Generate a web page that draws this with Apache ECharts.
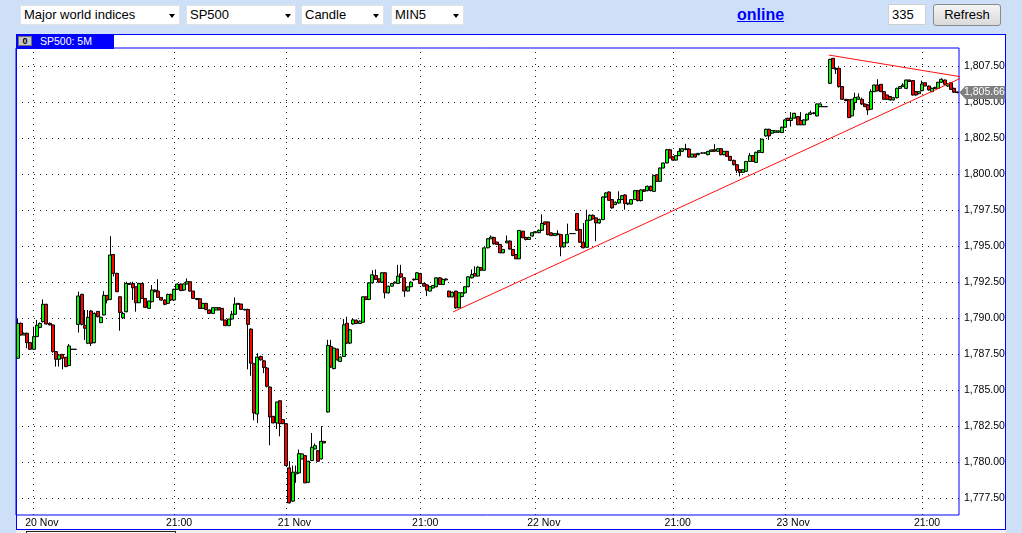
<!DOCTYPE html>
<html><head><meta charset="utf-8">
<script src="https://cdn.jsdelivr.net/npm/echarts@6/dist/echarts.min.js"></script>
<style>
html,body{margin:0;padding:0;width:1022px;height:533px;overflow:hidden;background:#cde0f7;font-family:"Liberation Sans",Arial,sans-serif;}
.sel{position:absolute;top:5px;height:20px;background:#fff;border:1px solid #e2e2e2;box-sizing:border-box;font-size:13px;line-height:18px;padding-left:3px;color:#000;white-space:nowrap;}
.sel:after{content:"";position:absolute;right:4px;top:8px;border-left:3.5px solid transparent;border-right:3.5px solid transparent;border-top:4px solid #000;}
#panel{position:absolute;left:16px;top:34px;width:990px;height:496px;box-sizing:border-box;border:1px solid #0000ff;background:#fff;}
#scroll{position:absolute;left:16px;top:530px;width:990px;height:3px;background:#f0f0f0;}
#thumb{position:absolute;left:26px;top:531px;width:150px;height:4px;box-sizing:border-box;border:1px solid #222;background:#f8f8f8;}
#title{position:absolute;left:16px;top:34px;width:98px;height:15px;background:#0000ff;color:#fff;font-size:10.5px;line-height:15px;}
#title span{position:absolute;left:24px;top:0;}
#icon{position:absolute;left:2px;top:2px;width:14px;height:10px;box-sizing:border-box;background:#c8c8c8;border:1px solid #707070;font-size:9px;line-height:8px;font-weight:bold;color:#000;text-align:center;}
#online{position:absolute;left:737px;top:5px;font-size:16px;font-weight:bold;color:#0000ff;text-decoration:underline;line-height:20px;}
#num{position:absolute;left:888px;top:4px;width:38px;height:21px;box-sizing:border-box;border:1px solid #cfcfcf;background:#fff;font-size:13px;line-height:19px;padding-left:3px;}
#refresh{position:absolute;left:933px;top:4px;width:68px;height:22px;box-sizing:border-box;border:1px solid #8a8a8a;border-radius:3px;background:linear-gradient(#f4f4f4,#dadada);font-size:13px;line-height:20px;text-align:center;}
#chart{position:absolute;left:0;top:0;width:1022px;height:533px;}
</style></head>
<body>
<div class="sel" style="left:20px;width:160px;">Major world indices</div>
<div class="sel" style="left:186px;width:110px;">SP500</div>
<div class="sel" style="left:301px;width:83px;">Candle</div>
<div class="sel" style="left:391px;width:73px;">MIN5</div>
<div id="online">online</div>
<div id="num">335</div>
<div id="refresh">Refresh</div>
<div id="panel"></div>
<div id="scroll"></div>
<div id="thumb"></div>
<div id="chart"></div>
<div id="title"><div id="icon">0</div><span>SP500: 5M</span></div>
<script>
// ---- data (open, close, low, high) per 5-minute bar ----
const candles = [
[1787.22,1789.64,1787.22,1789.99],[1789.64,1788.83,1788.80,1789.70],[1788.83,1788.95,1788.83,1789.00],[1788.95,1788.30,1787.91,1789.00],
[1788.30,1787.84,1787.80,1788.35],[1787.84,1788.72,1787.80,1789.40],[1788.72,1789.50,1788.70,1789.87],[1789.36,1789.64,1789.30,1789.70],
[1789.76,1790.96,1789.70,1791.30],[1790.96,1789.60,1789.55,1791.00],[1789.64,1789.53,1789.50,1789.70],[1789.53,1787.68,1787.60,1789.55],
[1787.68,1787.15,1786.64,1787.70],[1787.15,1787.45,1786.64,1787.50],[1787.49,1787.22,1786.45,1787.50],[1787.29,1786.64,1786.60,1787.30],
[1786.71,1788.07,1786.70,1788.20],[1787.84,1787.84,1787.84,1787.84],[1787.84,1787.84,1787.84,1787.84],[1789.57,1791.54,1789.00,1791.84],
[1791.65,1789.57,1789.50,1791.70],[1789.50,1789.30,1788.49,1790.57],[1788.26,1790.06,1788.20,1790.57],[1790.50,1788.26,1788.07,1790.55],
[1788.30,1790.33,1788.25,1790.40],[1790.47,1790.10,1790.05,1790.50],[1789.69,1790.06,1789.65,1790.10],[1790.22,1791.58,1790.20,1791.88],
[1791.58,1791.26,1791.03,1791.60],[1791.30,1794.38,1791.25,1795.69],[1794.42,1793.11,1792.90,1794.45],[1793.11,1791.84,1791.80,1793.15],
[1791.49,1790.40,1789.13,1791.50],[1790.03,1790.33,1789.94,1790.45],[1790.45,1792.41,1790.40,1792.53],[1792.41,1792.34,1792.30,1792.45],
[1792.41,1792.11,1791.26,1792.53],[1792.18,1791.07,1790.45,1792.20],[1791.07,1792.41,1791.05,1792.45],[1792.41,1791.37,1791.35,1792.45],
[1791.37,1790.75,1790.70,1791.40],[1790.68,1791.19,1790.65,1791.20],[1791.14,1791.95,1791.10,1792.30],[1791.95,1791.84,1791.80,1792.00],
[1791.88,1791.44,1791.40,1792.70],[1791.44,1791.26,1791.20,1791.45],[1791.26,1790.96,1790.90,1791.30],[1791.03,1791.65,1791.00,1791.70],
[1791.65,1791.26,1791.20,1791.70],[1791.26,1792.00,1791.20,1792.05],[1792.00,1792.37,1791.95,1792.40],[1792.37,1791.91,1791.90,1792.40],
[1791.95,1792.37,1791.90,1792.40],[1792.37,1792.53,1792.35,1792.76],[1792.53,1791.88,1791.85,1792.55],[1791.88,1791.37,1791.35,1791.90],
[1791.37,1791.30,1791.25,1791.40],[1791.35,1790.68,1790.65,1791.40],[1790.68,1791.03,1790.65,1791.05],[1791.03,1790.61,1790.55,1791.05],
[1790.57,1790.33,1790.30,1790.60],[1790.33,1790.73,1790.30,1790.75],[1790.57,1790.73,1790.55,1790.75],[1790.73,1790.57,1790.55,1790.75],
[1790.68,1789.87,1789.85,1790.70],[1789.87,1789.48,1789.45,1789.90],[1789.48,1789.94,1789.45,1789.95],[1789.94,1790.27,1789.90,1790.50],
[1790.27,1790.98,1790.25,1791.44],[1791.03,1790.96,1790.95,1791.05],[1790.98,1790.61,1790.60,1791.00],[1790.61,1790.57,1790.55,1790.65],
[1790.61,1789.57,1786.45,1790.65],[1789.24,1786.88,1786.00,1789.30],[1786.84,1783.42,1782.91,1786.90],[1783.35,1787.30,1782.72,1787.57],
[1787.34,1787.11,1787.05,1787.40],[1787.04,1786.58,1786.19,1787.10],[1786.54,1785.27,1785.20,1786.60],[1785.22,1783.14,1781.18,1785.25],
[1783.19,1782.73,1782.70,1783.20],[1782.73,1784.18,1782.31,1784.20],[1784.27,1782.68,1781.80,1784.30],[1782.96,1782.68,1782.65,1783.00],
[1782.68,1779.77,1779.75,1782.70],[1779.61,1777.18,1777.15,1780.07],[1777.30,1779.31,1777.25,1779.77],[1779.19,1779.31,1778.57,1779.77],
[1779.26,1780.60,1779.20,1780.88],[1780.23,1780.58,1780.20,1780.60],[1780.46,1778.57,1778.55,1780.50],[1778.61,1780.07,1778.55,1780.10],
[1780.12,1781.04,1780.10,1782.03],[1780.92,1781.15,1780.90,1781.30],[1780.80,1780.07,1780.05,1780.85],[1780.23,1781.45,1780.20,1782.50],
[1781.45,1781.34,1781.34,1781.45],[1783.49,1788.11,1783.45,1788.50],[1788.04,1786.61,1786.55,1788.50],[1786.50,1787.92,1786.45,1787.95],
[1787.85,1787.11,1787.05,1787.90],[1787.00,1787.30,1786.95,1787.35],[1787.34,1789.54,1787.30,1789.95],[1789.65,1788.27,1788.20,1790.10],
[1788.27,1789.19,1788.20,1789.25],[1789.60,1789.88,1789.55,1789.95],[1789.86,1789.63,1789.60,1789.90],[1789.63,1789.79,1789.60,1789.85],
[1789.72,1791.48,1789.70,1791.50],[1791.48,1791.30,1791.25,1791.50],[1791.30,1792.45,1791.25,1792.50],[1792.45,1793.01,1792.40,1793.33],
[1792.96,1792.69,1792.65,1793.38],[1792.73,1792.50,1792.45,1792.75],[1792.50,1793.15,1792.45,1793.20],[1793.15,1791.76,1791.37,1793.20],
[1791.76,1792.22,1791.70,1792.25],[1792.22,1792.41,1792.20,1792.45],[1792.45,1792.50,1792.40,1792.55],[1792.41,1792.92,1792.40,1793.70],
[1793.08,1792.85,1792.80,1793.70],[1792.80,1791.88,1791.48,1792.85],[1791.88,1792.18,1791.85,1792.20],[1792.18,1792.50,1792.15,1792.55],
[1792.70,1792.66,1792.60,1792.75],[1792.69,1793.15,1792.65,1793.20],[1793.10,1792.41,1792.40,1793.15],[1792.41,1792.22,1792.20,1792.45],
[1792.31,1791.94,1791.53,1792.35],[1791.88,1792.18,1791.85,1792.20],[1792.10,1792.27,1792.05,1792.30],[1792.18,1792.80,1792.15,1792.85],
[1792.80,1792.34,1792.30,1792.85],[1792.34,1792.69,1792.30,1792.75],[1792.72,1792.66,1792.60,1792.75],[1791.88,1791.48,1791.45,1791.90],
[1791.48,1791.80,1791.45,1791.85],[1791.88,1790.72,1790.65,1791.90],[1790.72,1791.76,1790.70,1791.80],[1791.50,1791.76,1791.45,1791.80],
[1791.76,1792.18,1791.70,1792.20],[1792.18,1792.87,1792.15,1792.90],[1792.80,1793.03,1792.75,1793.38],[1793.10,1792.92,1792.90,1793.60],
[1792.92,1793.54,1792.90,1793.60],[1793.50,1793.33,1793.30,1793.55],[1793.33,1794.88,1793.30,1794.90],[1794.88,1795.51,1794.85,1795.55],
[1795.51,1795.63,1795.50,1795.74],[1795.60,1795.16,1795.10,1795.65],[1795.28,1795.12,1795.10,1795.30],[1795.12,1794.54,1794.50,1795.15],
[1794.54,1794.77,1794.50,1794.80],[1795.23,1795.35,1795.20,1795.74],[1795.35,1794.80,1794.75,1795.40],[1794.77,1794.35,1794.30,1794.80],
[1794.42,1794.12,1794.10,1794.45],[1794.12,1796.09,1794.10,1796.10],[1796.04,1795.58,1795.55,1796.05],[1795.60,1795.46,1795.40,1795.65],
[1795.46,1795.60,1795.45,1795.65],[1795.70,1795.93,1795.65,1795.95],[1795.93,1796.00,1795.90,1796.05],[1795.93,1796.10,1795.90,1796.15],
[1796.10,1796.57,1796.05,1797.20],[1796.68,1796.52,1796.45,1796.70],[1796.68,1795.80,1795.75,1796.70],[1795.92,1795.73,1795.70,1795.95],
[1795.73,1795.87,1795.70,1795.90],[1795.85,1795.80,1795.75,1796.10],[1795.80,1794.95,1794.30,1795.85],[1794.95,1795.23,1794.90,1795.25],
[1795.23,1795.80,1795.20,1796.56],[1795.87,1795.87,1795.87,1795.87],[1795.87,1795.87,1795.87,1795.87],[1797.26,1796.10,1796.05,1797.30],
[1796.15,1795.27,1795.25,1796.20],[1795.27,1794.88,1794.85,1796.60],[1794.92,1796.80,1794.90,1797.53],[1796.80,1797.14,1796.75,1797.20],
[1797.14,1796.89,1796.85,1797.20],[1796.96,1796.61,1795.34,1797.00],[1796.61,1796.84,1796.55,1796.90],[1796.84,1798.41,1796.80,1798.45],
[1798.41,1798.69,1798.35,1798.75],[1798.76,1798.18,1798.15,1798.80],[1798.23,1797.65,1797.60,1798.25],[1797.88,1798.04,1797.85,1798.10],
[1797.99,1798.23,1797.95,1798.80],[1798.23,1798.50,1798.20,1798.55],[1798.55,1797.95,1797.53,1798.60],[1797.98,1797.92,1797.85,1798.00],
[1797.92,1798.23,1797.90,1798.25],[1798.23,1798.85,1798.20,1798.90],[1798.85,1798.16,1798.10,1798.90],[1798.16,1798.90,1798.10,1798.95],
[1798.90,1798.80,1798.75,1798.95],[1798.85,1799.15,1798.80,1799.20],[1799.15,1798.85,1798.80,1799.20],[1798.80,1799.89,1798.75,1799.95],
[1799.96,1799.50,1799.45,1800.00],[1799.50,1800.42,1799.45,1800.45],[1800.42,1800.77,1800.40,1800.80],[1800.77,1801.69,1800.75,1801.75],
[1801.69,1801.12,1801.10,1801.75],[1801.20,1800.97,1800.95,1801.25],[1800.97,1801.28,1800.95,1801.30],[1801.28,1801.58,1801.25,1801.80],
[1801.58,1801.76,1801.55,1801.80],[1801.70,1801.76,1801.65,1802.10],[1801.74,1801.18,1801.15,1801.80],[1801.18,1801.39,1801.15,1801.40],
[1801.39,1801.18,1801.15,1801.40],[1801.35,1801.44,1801.30,1801.46],[1801.46,1801.46,1801.42,1801.50],[1801.46,1801.46,1801.42,1801.50],
[1801.35,1801.58,1801.30,1801.60],[1801.58,1801.67,1801.55,1801.70],[1801.69,1801.58,1801.55,1802.08],[1801.58,1801.76,1801.55,1801.80],
[1801.76,1801.35,1801.30,1801.80],[1801.35,1801.58,1801.30,1801.60],[1801.58,1801.23,1801.20,1801.60],[1801.23,1800.95,1800.90,1801.25],
[1800.95,1800.65,1800.60,1801.00],[1800.65,1800.26,1800.07,1800.70],[1800.30,1800.12,1799.84,1800.35],[1800.12,1800.30,1800.10,1800.35],
[1800.19,1800.88,1800.15,1800.90],[1800.88,1801.28,1800.85,1801.46],[1801.28,1800.88,1800.85,1801.30],[1800.81,1801.51,1800.80,1801.55],
[1801.51,1801.62,1801.45,1801.65],[1801.50,1802.42,1801.45,1802.45],[1802.65,1803.11,1802.60,1803.15],[1803.11,1802.65,1802.37,1803.15],
[1802.84,1803.02,1802.80,1803.05],[1802.90,1803.00,1802.85,1803.05],[1802.90,1803.00,1802.85,1803.05],[1802.88,1803.25,1802.85,1803.30],
[1803.25,1803.76,1803.20,1803.80],[1803.88,1803.72,1803.70,1803.90],[1803.72,1803.88,1803.30,1804.30],[1803.88,1804.22,1803.85,1804.25],
[1803.99,1803.42,1803.40,1804.00],[1803.72,1803.42,1803.40,1804.30],[1803.42,1803.76,1803.40,1803.80],[1803.76,1804.15,1803.70,1804.20],
[1804.15,1804.25,1804.10,1804.40],[1804.20,1804.25,1804.15,1804.30],[1804.04,1804.87,1804.00,1804.90],[1804.68,1804.87,1804.65,1804.90],
[1804.68,1804.68,1804.68,1804.68],[1804.68,1804.68,1804.68,1804.68],[1806.30,1807.96,1806.25,1808.00],[1808.03,1807.34,1807.30,1808.05],
[1807.34,1807.27,1806.95,1807.40],[1807.34,1806.07,1806.00,1807.40],[1806.07,1805.19,1805.15,1806.10],[1805.19,1805.10,1805.05,1805.20],
[1805.15,1803.92,1803.90,1805.20],[1804.04,1805.19,1804.00,1805.20],[1804.96,1805.31,1804.45,1805.65],[1805.19,1805.35,1805.15,1805.60],
[1805.19,1804.86,1804.80,1805.30],[1804.86,1804.68,1804.65,1804.90],[1804.80,1804.45,1804.10,1804.85],[1804.50,1805.72,1804.45,1805.88],
[1805.72,1806.18,1805.70,1806.20],[1806.18,1805.77,1805.75,1806.58],[1806.23,1805.72,1805.70,1806.25],[1805.72,1805.19,1805.15,1805.75],
[1805.49,1805.19,1805.15,1805.50],[1805.38,1805.15,1805.10,1805.40],[1805.15,1805.30,1805.10,1805.35],[1805.30,1805.95,1805.25,1806.00],
[1805.95,1806.07,1805.90,1806.10],[1806.07,1806.18,1806.05,1806.30],[1805.95,1806.53,1805.90,1806.55],[1806.53,1806.42,1806.40,1806.55],
[1806.49,1805.49,1805.45,1806.50],[1805.72,1805.49,1805.45,1805.75],[1805.58,1805.72,1805.55,1805.75],[1805.79,1806.25,1805.75,1806.49],
[1806.34,1806.11,1806.10,1806.35],[1806.11,1805.84,1805.80,1806.15],[1805.72,1805.95,1805.70,1806.00],[1805.95,1806.02,1805.90,1806.05],
[1805.95,1806.37,1805.90,1806.40],[1806.37,1806.58,1806.35,1806.65],[1806.53,1806.23,1806.20,1806.55],[1806.11,1806.28,1806.05,1806.30],
[1806.34,1805.88,1805.85,1806.35],[1805.95,1805.68,1805.65,1806.00],[1805.70,1805.66,1805.60,1805.72]
];
const barIndex = candles.map((_, i) => String(i));
// day / hour ticks: bar index where each tick falls, and its text
const xTickIndex = [5, 49, 84, 126, 162, 205, 240, 283];
const xTickText = ['20 Nov', '21:00', '21 Nov', '21:00', '22 Nov', '21:00', '23 Nov', '21:00'];
const yTicks = [1777.5, 1780, 1782.5, 1785, 1787.5, 1790, 1792.5, 1795, 1797.5, 1800, 1802.5, 1805, 1807.5];
const yMin = 1776.34, yMax = 1808.75;
// trend lines: [bar index, price]
const lowerTrend = [[136.2, 1790.43], [298.5, 1807.01]];
const upperTrend = [[253.8, 1808.26], [295.4, 1806.74]];
const lastPrice = 1805.66;

const fmt = v => Number(v).toLocaleString('en-US', {minimumFractionDigits: 2, maximumFractionDigits: 2});
const LABEL_SHIFT = 2.6; // labels start ~8px left of their grid line
const xLabelPos = xTickIndex.map(i => i - LABEL_SHIFT);
const font = 'Liberation Sans';

const chart = echarts.init(document.getElementById('chart'), null, {renderer: 'canvas'});
const gridLineStyle = {color: '#222', width: 1, type: [1, 5]};
chart.setOption({
  animation: false,
  backgroundColor: 'transparent',
  grid: {left: 16, right: 63, top: 48, bottom: 18, show: true, borderColor: '#0000ff', borderWidth: 1, backgroundColor: 'transparent'},
  xAxis: [
    {type: 'category', data: barIndex, boundaryGap: true, axisLine: {show: false}, axisTick: {show: false},
     axisLabel: {show: false}, splitLine: {show: false}},
    {type: 'value', min: -0.5, max: candles.length - 0.5, position: 'bottom',
     axisLine: {show: false}, axisTick: {show: false, customValues: xLabelPos}, splitLine: {show: false},
     axisLabel: {customValues: xLabelPos, align: 'left', margin: 3, fontFamily: font, fontSize: 10.5, color: '#000',
       formatter: v => { let best = 0; xLabelPos.forEach((p, k) => { if (Math.abs(p - v) < Math.abs(xLabelPos[best] - v)) best = k; }); return xTickText[best]; }}}
  ],
  yAxis: {
    type: 'value', position: 'right', min: yMin, max: yMax,
    axisLine: {show: false}, axisTick: {show: false, customValues: yTicks}, splitLine: {show: false},
    axisLabel: {customValues: yTicks, margin: 5, fontFamily: font, fontSize: 10.5, color: '#000', formatter: v => fmt(v)}
  },
  series: [
    {
      type: 'candlestick', xAxisIndex: 0, yAxisIndex: 0, data: candles, barWidth: 3.5, z: 3,
      itemStyle: {color: '#00ff00', color0: '#ff0000', borderColor: '#000', borderColor0: '#000', borderColorDoji: '#000', borderWidth: 1},
      emphasis: {disabled: true},
      markLine: {
        silent: true, symbol: ['none', 'none'], z: 1, label: {show: false}, lineStyle: gridLineStyle, animation: false,
        data: yTicks.map(v => ({yAxis: v})).concat(xTickIndex.map(i => ({xAxis: i})))
      },
      markPoint: {
        silent: true, z: 10, animation: false,
        data: [{coord: [candles.length - 1, lastPrice], value: lastPrice}],
        symbol: 'path://M0,6.5 L6,0 L46,0 L46,13 L6,13 Z', symbolKeepAspect: false,
        symbolSize: [46, 13], symbolOffset: [25, 0],
        itemStyle: {color: '#7f7f7f'},
        label: {show: true, position: 'inside', offset: [2, 0], color: '#fff', fontFamily: font, fontSize: 10.5, formatter: p => fmt(p.value)}
      }
    },
    {type: 'line', xAxisIndex: 1, yAxisIndex: 0, data: lowerTrend, clip: false, symbol: 'none', z: 4, silent: true,
     lineStyle: {color: '#ff1010', width: 1}},
    {type: 'line', xAxisIndex: 1, yAxisIndex: 0, data: upperTrend, clip: false, symbol: 'none', z: 4, silent: true,
     lineStyle: {color: '#ff1010', width: 1}}
  ]
});
</script>
</body></html>
